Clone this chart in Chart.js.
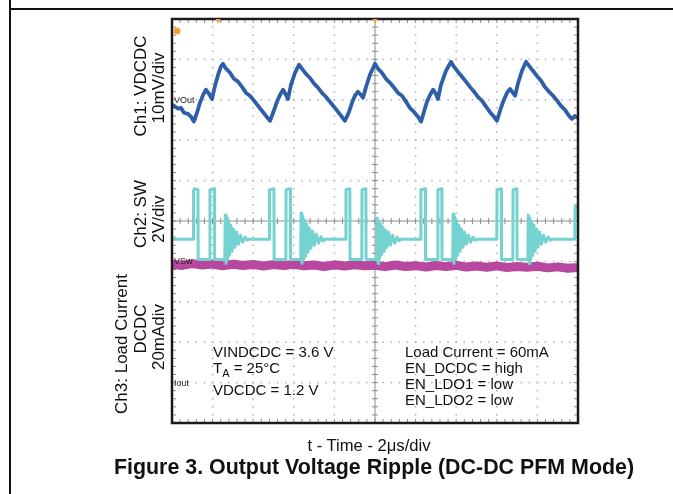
<!DOCTYPE html>
<html><head><meta charset="utf-8">
<script src="https://cdn.jsdelivr.net/npm/chart.js@4"></script>
<style>
html,body{margin:0;padding:0;background:#fff;}
body{width:673px;height:494px;position:relative;overflow:hidden;font-family:"Liberation Sans",Arial,sans-serif;color:#111;}
#c{position:absolute;left:0;top:0;}
.ln{position:absolute;background:#111;}
.rot{position:absolute;white-space:nowrap;transform:translate(-50%,-50%) rotate(-90deg);font-size:17px;line-height:17px;}
.t{position:absolute;white-space:nowrap;font-size:15px;line-height:16px;}
.mk{position:absolute;white-space:nowrap;font-size:9px;line-height:9px;color:#222;transform:translateY(-50%);}
sub{font-size:11px;vertical-align:-4px;line-height:0;}
</style></head><body>
<div class="ln" style="left:9px;top:8px;width:664px;height:2px"></div>
<div class="ln" style="left:9px;top:0;width:2px;height:494px"></div>
<canvas id="c" width="673" height="494"></canvas>

<div class="rot" style="left:140px;top:86px">Ch1: VDCDC</div>
<div class="rot" style="left:158px;top:88px">10mV/div</div>
<div class="rot" style="left:140px;top:214px">Ch2: SW</div>
<div class="rot" style="left:158px;top:219px">2V/div</div>
<div class="rot" style="left:121px;top:344px">Ch3: Load Current</div>
<div class="rot" style="left:140px;top:329px">DCDC</div>
<div class="rot" style="left:158px;top:337px">20mAdiv</div>

<div class="t" style="left:213px;top:344px">VINDCDC = 3.6 V</div>
<div class="t" style="left:213px;top:360px">T<sub>A</sub> = 25°C</div>
<div class="t" style="left:213px;top:382px">VDCDC = 1.2 V</div>
<div class="t" style="left:405px;top:344px">Load Current = 60mA</div>
<div class="t" style="left:405px;top:360px">EN_DCDC = high</div>
<div class="t" style="left:405px;top:376px">EN_LDO1 = low</div>
<div class="t" style="left:405px;top:392px">EN_LDO2 = low</div>

<div class="t" style="left:369px;top:437px;font-size:16.6px;line-height:17px;transform:translateX(-50%)">t - Time - 2μs/div</div>
<div class="t" style="left:374px;top:457px;font-size:21.4px;line-height:21px;font-weight:bold;transform:translateX(-50%)">Figure 3. Output Voltage Ripple (DC-DC PFM Mode)</div>

<div class="mk" id="mkV">VOut</div>
<div class="mk" id="mkS">VSw</div>
<div class="mk" id="mkI">Iout</div>

<script>
// Time axis: 2 µs/div, 10 divisions
const gridTimes = [0,2,4,6,8,10,12,14,16,18,20];
// Ch1 VDCDC ripple, mV relative to the VOut marker (10 mV/div)
const ch1Time = [0.00,0.10,0.30,0.44,0.59,0.79,0.94,1.08,1.23,1.38,1.53,1.67,1.82,1.97,2.12,2.27,2.41,2.51,2.66,2.86,3.05,3.25,3.45,3.65,3.84,4.04,4.24,4.43,4.63,4.83,
 4.98,5.17,5.32,5.47,5.62,5.71,5.86,6.06,6.26,6.40,6.60,6.80,7.00,7.19,7.39,7.59,7.78,7.98,8.18,8.37,8.52,
 8.72,8.87,9.01,9.16,9.31,9.41,9.56,9.75,10.00,10.15,10.34,10.54,10.74,10.94,11.13,11.33,11.53,11.72,11.92,12.12,12.27,
 12.41,12.56,12.71,12.86,13.00,13.10,13.25,13.50,13.74,13.89,14.09,14.29,14.48,14.68,14.88,15.07,15.27,15.47,15.66,15.86,16.01,
 16.16,16.31,16.50,16.65,16.80,16.90,17.04,17.24,17.44,17.59,17.78,17.98,18.18,18.37,18.57,18.77,18.97,19.16,19.36,19.56,19.70,19.85,20.00];
const ch1Mv = [-1.2,-1.5,-2.2,-2.0,-3.2,-3.5,-4.2,-5.4,-3.2,-0.7,1.2,2.5,1.5,0.2,3.5,6.2,8.2,8.9,7.7,6.7,5.2,4.5,3.2,1.7,1.0,-0.2,-1.5,-2.7,-4.0,-5.2,
 -3.2,-0.5,1.2,2.5,1.2,0.2,3.7,6.7,8.7,7.7,6.4,5.4,4.0,3.0,1.7,0.7,-0.5,-1.7,-3.0,-4.2,-5.2,
 -3.0,-0.7,1.0,2.0,1.2,0.5,3.2,6.2,8.9,7.7,6.7,5.2,4.2,3.0,1.7,1.0,-0.5,-2.0,-3.0,-4.2,-5.4,
 -3.0,-0.5,1.2,2.5,1.5,0.2,3.7,7.2,9.4,8.2,6.9,5.7,4.5,3.2,2.0,0.7,-0.2,-1.7,-3.0,-4.2,-5.2,
 -2.7,-0.5,1.7,2.7,1.7,1.0,4.0,7.2,9.4,8.4,7.2,5.9,4.7,3.2,2.0,1.0,-0.2,-1.5,-2.5,-4.0,-4.7,-4.0,-4.5];
// Ch2 SW node, volts (2 V/div)
const ch2Time = [0,1.05,1.06,1.10,1.28,1.29,1.86,1.87,2.09,2.10,2.60,2.62,2.66,2.70,2.74,2.79,2.84,2.90,2.96,3.03,3.10,3.18,3.27,3.37,3.48,3.60,3.70,3.80,4.79,
 4.80,5.02,5.03,5.61,5.62,5.83,5.84,6.34,6.36,6.40,6.44,6.48,6.53,6.58,6.64,6.70,6.77,6.84,6.92,7.01,7.11,7.22,7.34,7.44,7.54,8.56,
 8.57,8.76,8.77,9.35,9.36,9.55,9.56,10.09,10.11,10.15,10.19,10.23,10.28,10.33,10.39,10.45,10.52,10.59,10.67,10.76,10.86,10.97,11.09,11.19,11.28,12.25,
 12.26,12.48,12.49,13.09,13.10,13.29,13.30,13.83,13.85,13.89,13.93,13.97,14.02,14.07,14.13,14.19,14.26,14.33,14.41,14.50,14.60,14.71,14.83,14.93,15.03,16.00,
 16.01,16.22,16.23,16.79,16.80,16.99,17.00,17.53,17.55,17.59,17.63,17.67,17.72,17.77,17.83,17.89,17.96,18.03,18.11,18.20,18.30,18.41,18.53,18.63,18.73,19.84,19.86,20.00];
const ch2Volt = [1.1,1.1,3.5,3.6,3.55,0.1,0.1,3.55,3.6,0.1,0.1,2.3,-0.1,2.2,0.1,2.0,0.3,1.8,0.5,1.6,0.7,1.45,0.85,1.3,0.95,1.2,1.05,1.1,1.1,
 3.55,3.6,0.1,0.1,3.55,3.6,0.1,0.1,2.4,-0.1,2.25,0.1,2.05,0.25,1.85,0.45,1.65,0.65,1.5,0.8,1.35,0.9,1.22,1.0,1.1,1.1,
 3.55,3.6,0.1,0.1,3.55,3.6,0.1,0.1,2.15,-0.1,2.0,0.15,1.85,0.35,1.7,0.5,1.55,0.7,1.45,0.8,1.3,0.9,1.2,1.02,1.1,1.1,
 3.55,3.6,0.1,0.1,3.55,3.6,0.1,0.1,2.35,-0.1,2.2,0.1,2.0,0.3,1.8,0.5,1.6,0.7,1.45,0.85,1.3,0.95,1.2,1.05,1.1,1.1,
 3.55,3.6,0.1,0.1,3.55,3.6,0.1,0.1,2.3,-0.1,2.15,0.1,1.95,0.3,1.8,0.5,1.6,0.7,1.45,0.85,1.3,0.95,1.2,1.05,1.1,1.1,2.7,2.7];
// Ch3 load current, mA (20 mA/div)
const ch3Time = [0,0.5,1,1.5,2,2.5,3,3.5,4,4.5,5,5.5,6,6.5,7,7.5,8,8.5,9,9.5,10,10.5,11,11.5,12,12.5,13,13.5,14,14.5,15,15.5,16,16.5,17,17.5,18,18.5,19,19.5,20];
const ch3mA = [58.6,58.0,58.9,58.2,58.7,57.8,58.6,58.0,58.5,57.7,58.4,57.9,58.6,57.8,58.2,57.5,58.3,57.7,58.3,57.8,
 58.1,57.4,58.2,57.5,57.9,57.2,58.0,57.4,58.1,57.2,57.7,57.1,57.8,57.0,57.5,57.1,57.6,56.8,57.3,56.6,57.0];
// trigger / reference markers on the time axis
const topMarkTimes = [2.27, 10];

const pts = (ts, vs) => ts.map((t, i) => ({x: t, y: vs[i]}));

const scopeGrid = {
  id: 'scopeGrid',
  beforeDatasetsDraw(chart) {
    const {ctx, chartArea: a, scales: {x, yV}} = chart;
    const minorX = [], minorY = [];
    for (let t = 0; t <= 20.001; t += 0.4) minorX.push(x.getPixelForValue(t));
    for (let v = -80; v <= 20.001; v += 2) minorY.push(yV.getPixelForValue(v));
    const majorY = [];
    for (let v = -80; v <= 20.001; v += 10) majorY.push(yV.getPixelForValue(v));
    const cx = x.getPixelForValue(10), cy = yV.getPixelForValue(-30);
    ctx.save();
    ctx.fillStyle = '#b0b0b0';
    gridTimes.slice(1, -1).forEach(t => {
      if (t === 10) return;
      const px = x.getPixelForValue(t);
      minorY.forEach(py => ctx.fillRect(px - 0.75, py - 0.75, 1.5, 1.5));
    });
    majorY.slice(1, -1).forEach(py => {
      if (Math.abs(py - cy) < 1) return;
      minorX.forEach(px => ctx.fillRect(px - 0.75, py - 0.75, 1.5, 1.5));
    });
    // centre cross
    ctx.strokeStyle = '#8c8c8c';
    ctx.lineWidth = 1;
    ctx.beginPath();
    ctx.moveTo(cx, a.top); ctx.lineTo(cx, a.bottom);
    ctx.moveTo(a.left, cy); ctx.lineTo(a.right, cy);
    minorY.forEach(py => { ctx.moveTo(cx - 3, py); ctx.lineTo(cx + 3, py); });
    minorX.forEach(px => { ctx.moveTo(px, cy - 3); ctx.lineTo(px, cy + 3); });
    // border ticks
    minorX.forEach(px => { ctx.moveTo(px, a.top); ctx.lineTo(px, a.top + 4); ctx.moveTo(px, a.bottom); ctx.lineTo(px, a.bottom - 4); });
    minorY.forEach(py => { ctx.moveTo(a.left, py); ctx.lineTo(a.left + 4, py); ctx.moveTo(a.right, py); ctx.lineTo(a.right - 4, py); });
    ctx.stroke();
    ctx.restore();
  },
  afterDraw(chart) {
    const {ctx, chartArea: a, scales: {x}} = chart;
    ctx.save();
    ctx.strokeStyle = '#1a1a1a';
    ctx.lineWidth = 2.5;
    ctx.strokeRect(a.left, a.top, a.right - a.left, a.bottom - a.top);
    ctx.fillStyle = '#f0a53a';
    topMarkTimes.forEach(t => {
      const px = x.getPixelForValue(t);
      ctx.beginPath();
      ctx.moveTo(px - 2.5, a.top); ctx.lineTo(px + 2.5, a.top); ctx.lineTo(px, a.top + 5); ctx.closePath();
      ctx.fill();
    });
    ctx.beginPath();
    ctx.arc(a.left + 5, a.top + 12, 3.5, 0, Math.PI * 2);
    ctx.fill();
    ctx.restore();
  }
};

const chart = new Chart(document.getElementById('c'), {
  type: 'line',
  data: {
    datasets: [
      {label: 'Ch1 VDCDC', data: pts(ch1Time, ch1Mv), yAxisID: 'yV', borderColor: '#2f5ea8', borderWidth: 3.8, order: 1},
      {label: 'Ch2 SW', data: pts(ch2Time, ch2Volt), yAxisID: 'ySW', borderColor: '#74d3d1', borderWidth: 3, order: 2},
      {label: 'Ch3 Load Current', data: pts(ch3Time, ch3mA), yAxisID: 'yI', borderColor: '#b8479f', borderWidth: 9, order: 3}
    ]
  },
  options: {
    responsive: false,
    animation: false,
    devicePixelRatio: 1,
    layout: {padding: {left: 172, top: 19, right: 95, bottom: 71}},
    elements: {point: {radius: 0}, line: {tension: 0, borderJoinStyle: 'round', borderCapStyle: 'round'}},
    plugins: {legend: {display: false}, tooltip: {enabled: false}},
    scales: {
      x: {type: 'linear', min: 0, max: 20, display: false},
      yV: {type: 'linear', min: -80, max: 20, display: false},
      ySW: {type: 'linear', min: -8, max: 12, display: false},
      yI: {type: 'linear', min: -20, max: 180, display: false}
    }
  },
  plugins: [scopeGrid]
});

const a = chart.chartArea;
const place = (id, scale, v) => {
  const el = document.getElementById(id);
  el.style.left = (a.left + 2) + 'px';
  el.style.top = chart.scales[scale].getPixelForValue(v) + 'px';
};
place('mkV', 'yV', 0);
place('mkS', 'ySW', 0);
place('mkI', 'yI', 0);
</script>
</body></html>
